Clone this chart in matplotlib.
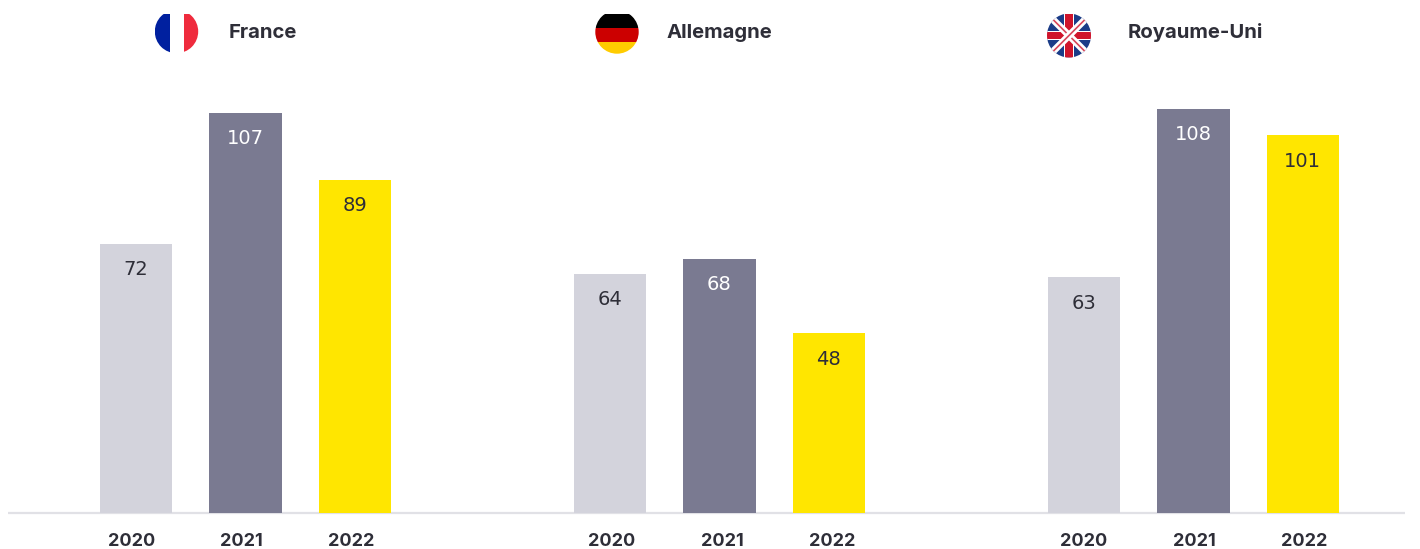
import numpy as np
import matplotlib
matplotlib.use("Agg")
import matplotlib.pyplot as plt
from matplotlib.patches import Circle, Rectangle

# donnees du graphique
pays = ["France", "Allemagne", "Royaume-Uni"]
annees = ["2020", "2021", "2022"]
val_2020 = [72, 64, 63]
val_2021 = [107, 68, 108]
val_2022 = [89, 48, 101]

W, H = 1420, 549
BASE = 513          # ligne de base en pixels
PX_PAR_UNITE = 3.74

DARK = "#2E2E38"
couleurs = ["#D3D3DC", "#7A7A91", "#FFE600"]
couleurs_txt = [DARK, "white", DARK]

centres_barres = np.array([245.3, 719.3, 1193.3])
centres_ticks = np.array([241.5, 722.0, 1194.0])
ecart = 109.5
largeur = 72.5

plt.rcParams["font.family"] = ["Inter", "DejaVu Sans"]

fig = plt.figure(figsize=(W / 100, H / 100), dpi=100)

# axe des barres : x en pixels, y en valeurs
ax = fig.add_axes([0, 0, 1, 1])
ax.set_xlim(0, W)
ax.set_ylim(-(H - BASE) / PX_PAR_UNITE, BASE / PX_PAR_UNITE)
ax.set_axis_off()

series = [val_2020, val_2021, val_2022]
for i, vals in enumerate(series):
    xs = centres_barres + (i - 1) * ecart
    ax.bar(xs, vals, width=largeur, color=couleurs[i], linewidth=0, zorder=2)
    for x, v in zip(xs, vals):
        ax.annotate(str(v), (x, v), xytext=(0, -18.6), textcoords="offset points",
                    ha="center", va="center", fontsize=14,
                    family="DejaVu Sans", color=couleurs_txt[i])
ax.plot([8, 1405], [0, 0], color="#E1E1E6", lw=1.6, zorder=1, solid_capstyle="butt")

# axe de superposition en pixels pour les drapeaux et les textes
ov = fig.add_axes([0, 0, 1, 1])
ov.set_xlim(0, W)
ov.set_ylim(H, 0)
ov.set_axis_off()
ov.patch.set_alpha(0)

for c in centres_ticks:
    for i, a in enumerate(annees):
        ov.text(c + (i - 1) * 110, 541.5, a, ha="center", va="center",
                fontsize=13, fontweight="bold", color=DARK)

for nom, x in zip(pays, [229, 667, 1128]):
    ov.text(x, 32.5, nom, ha="left", va="center", fontsize=14.6,
            fontweight="bold", color=DARK)


def add(patch, disque):
    ov.add_patch(patch)
    patch.set_clip_path(disque)
    return patch


# France
cx, cy, r = 176.5, 31.5, 21.7
d = Circle((cx, cy), r, transform=ov.transData)
add(Rectangle((cx - r, 14), 15, 45, fc="#00209F", lw=0), d)
add(Rectangle((cx - r + 15, 14), 14, 45, fc="white", lw=0), d)
add(Rectangle((cx - r + 29, 14), 15, 45, fc="#EF2B3D", lw=0), d)

# Allemagne
cx, cy, r = 617, 32, 21.7
d = Circle((cx, cy), r, transform=ov.transData)
add(Rectangle((cx - r, 14), 2 * r, 14.3, fc="black", lw=0), d)
add(Rectangle((cx - r, 28.3), 2 * r, 13.7, fc="#CC0000", lw=0), d)
add(Rectangle((cx - r, 42), 2 * r, 14, fc="#FFCC00", lw=0), d)

# Royaume-Uni
cx, cy, r = 1069, 35.5, 22
d = Circle((cx, cy), r, transform=ov.transData)
add(Rectangle((cx - r, cy - r), 2 * r, 2 * r, fc="#1B3C87", lw=0), d)
for sx in (1, -1):
    l, = ov.plot([cx - sx * r, cx + sx * r], [cy - r, cy + r], color="white", lw=5)
    l.set_clip_path(d)
    l, = ov.plot([cx - sx * r, cx + sx * r], [cy - r, cy + r], color="#D9465A", lw=1.2)
    l.set_clip_path(d)
add(Rectangle((cx - 4.8, cy - r), 9.6, 2 * r, fc="white", lw=0), d)
add(Rectangle((cx - r, cy - 4.8), 2 * r, 9.6, fc="white", lw=0), d)
add(Rectangle((cx - 3.7, cy - r), 7.4, 2 * r, fc="#CF142B", lw=0), d)
add(Rectangle((cx - r, cy - 3.7), 2 * r, 7.4, fc="#CF142B", lw=0), d)

fig.savefig("out.png", dpi=100, facecolor="white")
